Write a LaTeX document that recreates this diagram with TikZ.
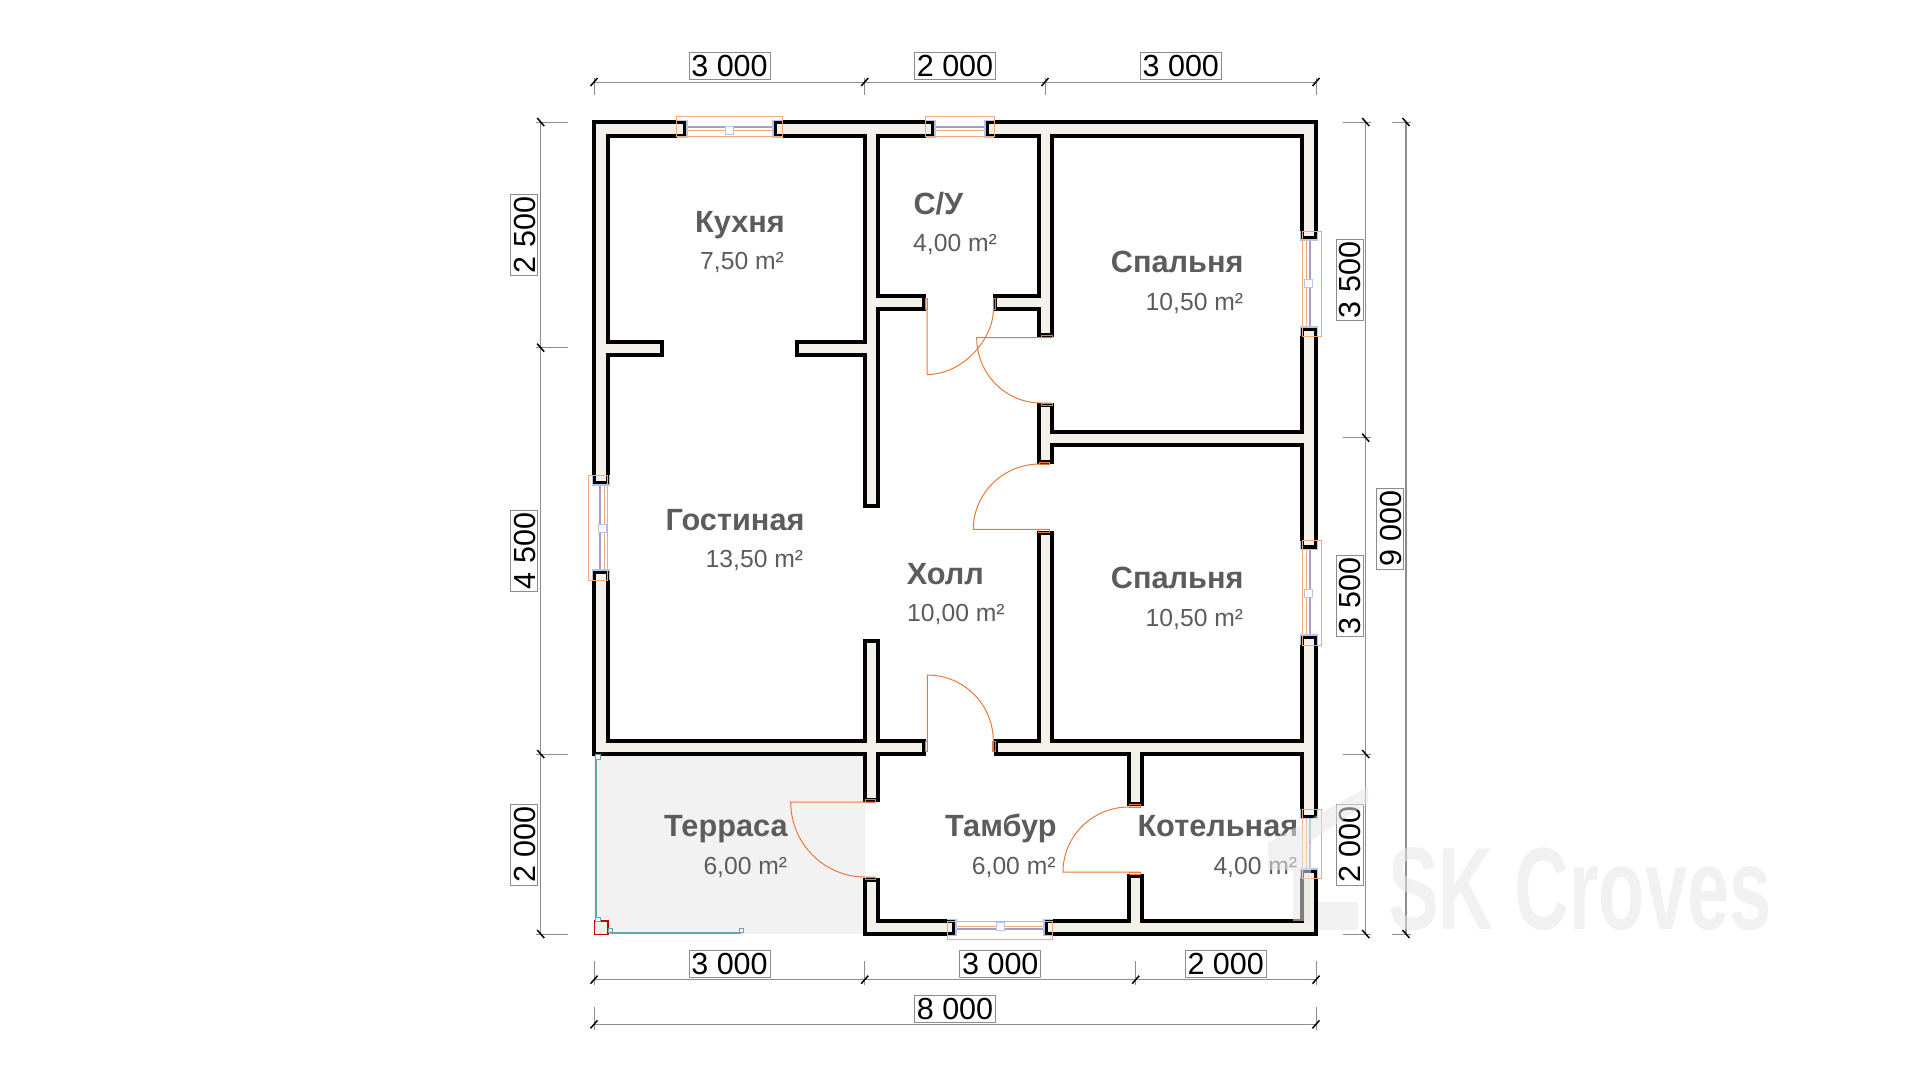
\documentclass[tikz,border=0pt]{standalone}
\usepackage{fontspec}
\setmainfont{Liberation Sans}
\definecolor{wallfill}{HTML}{F4F1EA}
\definecolor{doorc}{HTML}{E8793A}
\definecolor{winc}{HTML}{F2A878}
\definecolor{bluec}{HTML}{B4C4EA}
\definecolor{purplec}{HTML}{A39FC8}
\definecolor{railc}{HTML}{62A9AC}
\definecolor{labc}{HTML}{5C5C5C}
\definecolor{dimc}{HTML}{8C8C8C}
\definecolor{terr}{HTML}{F2F2F2}
\definecolor{markc}{HTML}{E7E7E7}
\tikzset{
  wall/.style={fill=wallfill,draw=black,line width=3.4pt,line join=miter},
  door/.style={draw=doorc,line width=1pt},
  jamb/.style={draw=doorc,line width=1pt},
  winline/.style={draw=winc,line width=1pt},
  winmark/.style={draw=bluec,line width=1.2pt},
  winmid/.style={draw=purplec,line width=1.6pt},
  winsq/.style={draw=bluec,fill=white,line width=1pt},
  rail/.style={draw=railc,line width=2pt},
  railsq/.style={draw=railc,fill=white,line width=1pt},
  dimline/.style={draw=dimc,line width=1pt},
  slash/.style={draw=black,line width=1.5pt},
  dimlab/.style={draw=dimc,fill=white,line width=1pt,minimum width=81pt,minimum height=27pt,inner sep=0pt,
     font=\fontsize{30.5}{30.5}\selectfont,text=black,text height=21.8pt,text depth=0pt},
  roomname/.style={anchor=base west,inner sep=0pt,text=labc,font=\fontsize{30.7}{30.7}\selectfont\bfseries},
  roomarea/.style={anchor=base west,inner sep=0pt,text=labc,font=\fontsize{24.7}{24.7}\selectfont},
  logomark/.style={fill=markc,opacity=.55}
}
\newcommand{\hwin}[8]{% o1 o2 yo1 yo2 w1 w2 ypurple yinner
  \draw[winline] (#1,#3) rectangle (#2,#4);
  \draw[winline] (#5,#8) -- (#6,#8);
  \draw[winmid] (#5,#7) -- (#6,#7);}
\newcommand{\vwin}[8]{% o1 o2 xo1 xo2 w1 w2 xpurple xinner
  \draw[winline] (#3,#1) rectangle (#4,#2);
  \draw[winline] (#8,#5) -- (#8,#6);
  \draw[winmid] (#7,#5) -- (#7,#6);}
\newcommand{\hend}[4]{\draw[winmark] (#1,#3-1.5) -- (#2,#3-1.5) -- (#2,#4+1.5) -- (#1,#4+1.5);}
\newcommand{\vend}[4]{\draw[winmark] (#3-1.5,#1) -- (#3-1.5,#2) -- (#4+1.5,#2) -- (#4+1.5,#1);}
\newcommand{\sqat}[3]{\draw[#3] (#1-4,#2-4) rectangle (#1+4,#2+4);}
\newcommand{\tickH}[4]{\draw[dimline] (#1,#3) -- (#1,#4); \draw[slash] (#1-3.5,#2+4) -- (#1+3.5,#2-4);}
\newcommand{\tickV}[4]{\draw[dimline] (#3,#2) -- (#4,#2); \draw[slash] (#1-3.5,#2-4) -- (#1+3.5,#2+4);}
\begin{document}
\begin{tikzpicture}[x=1pt,y=-1pt]
\useasboundingbox (0,0) rectangle (1920,1080);
\fill[white] (0,0) rectangle (1920,1080);
% terrace
\fill[terr] (594,754) rectangle (865,934);
% walls
\draw[wall] (685,122) -- (594,122) -- (594,483) -- (608,483) -- (608,355) -- (662,355) -- (662,342) -- (608,342) -- (608,136) -- (685,136) -- cycle;
\draw[wall] (775,122) -- (933,122) -- (933,136) -- (878,136) -- (878,296) -- (924,296) -- (924,309) -- (878,309) -- (878,506) -- (865,506) -- (865,355) -- (797,355) -- (797,342) -- (865,342) -- (865,136) -- (775,136) -- cycle;
\draw[wall] (987,122) -- (1316,122) -- (1316,238) -- (1302,238) -- (1302,136) -- (1052,136) -- (1052,335) -- (1039,335) -- (1039,309) -- (995,309) -- (995,296) -- (1039,296) -- (1039,136) -- (987,136) -- cycle;
\draw[wall] (594,572) -- (608,572) -- (608,741) -- (865,741) -- (865,641) -- (878,641) -- (878,741) -- (924,741) -- (924,754) -- (878,754) -- (878,800) -- (865,800) -- (865,754) -- (594,754) -- cycle;
\draw[wall] (1316,329) -- (1316,547) -- (1302,547) -- (1302,445) -- (1052,445) -- (1052,462) -- (1039,462) -- (1039,405) -- (1052,405) -- (1052,432) -- (1302,432) -- (1302,329) -- cycle;
\draw[wall] (1316,637) -- (1316,817) -- (1302,817) -- (1302,754) -- (1142,754) -- (1142,804) -- (1129,804) -- (1129,754) -- (996,754) -- (996,741) -- (1039,741) -- (1039,533) -- (1052,533) -- (1052,741) -- (1302,741) -- (1302,637) -- cycle;
\draw[wall] (865,880) -- (878,880) -- (878,921) -- (954,921) -- (954,934) -- (865,934) -- cycle;
\draw[wall] (1046,921) -- (1129,921) -- (1129,876) -- (1142,876) -- (1142,921) -- (1302,921) -- (1302,871) -- (1316,871) -- (1316,934) -- (1046,934) -- cycle;
% doors
\draw[door] (927,298) -- (927,374.5) .. controls (963.7,374.5) and (993.5,338.3) .. (993.5,309) -- (993.5,298);
\draw[jamb] (925,298) rectangle (927.5,309.5);
\draw[jamb] (993,298) rectangle (995.5,309.5);
\draw[door] (1052,337.7) -- (976.7,337.7) .. controls (976.7,373.7) and (1005.5,403) .. (1041,403) -- (1052,403);
\draw[jamb] (1041,335) rectangle (1052,337.7);
\draw[jamb] (1041,403) rectangle (1052,405.5);
\draw[door] (1049,529.3) -- (973.3,529.3) .. controls (973.3,493.3) and (1003.2,464) .. (1040,464) -- (1049,464);
\draw[jamb] (1039.5,462) rectangle (1049,464);
\draw[jamb] (1038.5,529.3) rectangle (1049,532);
\draw[door] (927.3,751) -- (927.3,675) .. controls (963.8,675) and (993.3,704.5) .. (993.3,741) -- (993.3,751);
\draw[jamb] (925,741) rectangle (927.3,751);
\draw[jamb] (992.5,741) rectangle (995,751);
\draw[door] (875,802) -- (790.7,802) .. controls (790.7,843.4) and (824,877) .. (865,877) -- (875,877);
\draw[jamb] (865,799.5) rectangle (875,802);
\draw[jamb] (865,877) rectangle (875,879.5);
\draw[door] (1140,872) -- (1063,872) .. controls (1063,836) and (1092.5,807) .. (1129,807) -- (1140,807);
\draw[jamb] (1129,804.5) rectangle (1140,807);
\draw[jamb] (1129,872) rectangle (1140,874.5);
% windows
\hwin{676.7}{782}{116.7}{136}{687}{773}{127}{130}
\hend{677}{687}{122}{136} \hend{783}{773}{122}{136}
\sqat{729.6}{130}{winsq}
\hwin{925.7}{994}{116.7}{136}{935}{985}{127}{130}
\hend{926}{935}{122}{136} \hend{994}{985}{122}{136}
\hwin{947}{1052.7}{921}{939.3}{956}{1044}{929}{926}
\hend{947}{956}{921}{934} \hend{1053}{1044}{921}{934}
\sqat{1000}{926.7}{winsq}
\vwin{475}{580.7}{588}{607.7}{485}{570}{600}{604}
\vend{475}{485}{594}{608} \vend{580}{570}{594}{608}
\sqat{602.7}{528.3}{winsq}
\vwin{231}{336}{1302.5}{1321.5}{240}{327}{1310}{1306.5}
\vend{231}{240}{1302}{1316} \vend{336}{327}{1302}{1316}
\sqat{1308}{283}{winsq}
\vwin{540.7}{645}{1302.5}{1321.5}{549.7}{635}{1310}{1306.5}
\vend{540.7}{549.7}{1302}{1316} \vend{645}{635}{1302}{1316}
\sqat{1308}{593}{winsq}
\vwin{809}{878}{1302.5}{1321.5}{818.7}{869}{1310}{1306.5}
\vend{809}{818.7}{1302}{1316} \vend{878}{869}{1302}{1316}
% terrace rail
\draw[rail] (595.5,754) -- (595.5,920);
\draw[rail] (610,933) -- (741,933);
\draw[draw=red!75!black,fill=wallfill,line width=1.6pt] (594.5,921) rectangle (608,934.5);
\draw[railsq] (595.5,754.5) rectangle (600.5,759);
\draw[railsq] (595.5,917) rectangle (600.5,921.5);
\draw[railsq] (608,928) rectangle (612.5,932.5);
\draw[railsq] (739,928) rectangle (743.5,932.5);
% dimension lines
\draw[dimline] (594,82) -- (1316,82);
\tickH{594}{82}{78}{95} \tickH{864.7}{82}{78}{95} \tickH{1045}{82}{78}{95} \tickH{1316}{82}{78}{95}
\draw[dimline] (594,979.7) -- (1316,979.7);
\tickH{594}{979.7}{961}{985} \tickH{864.7}{979.7}{961}{985} \tickH{1135.7}{979.7}{961}{985} \tickH{1316}{979.7}{961}{985}
\draw[dimline] (594,1024.3) -- (1316,1024.3);
\tickH{594}{1024.3}{1007}{1030} \tickH{1316}{1024.3}{1007}{1030}
\draw[dimline] (540.7,122) -- (540.7,934);
\tickV{540.7}{122}{536}{567.7} \tickV{540.7}{347.7}{536}{567.7} \tickV{540.7}{754}{536}{567.7} \tickV{540.7}{934}{536}{567.7}
\draw[dimline] (1365.7,122) -- (1365.7,934);
\tickV{1365.7}{122}{1342.5}{1371} \tickV{1365.7}{437.7}{1342.5}{1371} \tickV{1365.7}{754}{1342.5}{1371} \tickV{1365.7}{934}{1342.5}{1371}
\draw[dimline,line width=1.5pt] (1406,122) -- (1406,934);
\tickV{1406}{122}{1392}{1411} \tickV{1406}{934}{1392}{1411}
% dimension labels
\node[dimlab] (dt1) at (729.5,66) {3 000};
\node[dimlab] (dt2) at (955,66) {2 000};
\node[dimlab] (dt3) at (1180.8,66) {3 000};
\node[dimlab] (db1) at (729.5,964) {3 000};
\node[dimlab] (db2) at (1000.3,964) {3 000};
\node[dimlab] (db3) at (1225.7,964) {2 000};
\node[dimlab] (db4) at (955,1009) {8 000};
\node[dimlab,rotate=90] (dl1) at (524.3,235) {2 500};
\node[dimlab,rotate=90] (dl2) at (524.3,551) {4 500};
\node[dimlab,rotate=90] (dl3) at (524.3,844.5) {2 000};
\node[dimlab,rotate=90] (dr1) at (1349.7,280) {3 500};
\node[dimlab,rotate=90] (dr2) at (1349.7,596) {3 500};
\node[dimlab,rotate=90] (dr3) at (1349.5,844.5) {2 000};
\node[dimlab,rotate=90] (dr4) at (1390.2,528.5) {9 000};
% rooms
\node[roomname] (n1) at (695,232.7) {Кухня};
\node[roomarea] (a1) at (700,269) {7,50 m²};
\node[roomname] (n2) at (913.3,214) {С/У};
\node[roomarea] (a2) at (913,251.7) {4,00 m²};
\node[roomname] (n3) at (1110.7,272.7) {Спальня};
\node[roomarea] (a3) at (1145.5,310) {10,50 m²};
\node[roomname] (n4) at (665.5,530.3) {Гостиная};
\node[roomarea] (a4) at (705.5,567) {13,50 m²};
\node[roomname] (n5) at (906.7,584.3) {Холл};
\node[roomarea] (a5) at (907,621.7) {10,00 m²};
\node[roomname] (n6) at (1110.7,588) {Спальня};
\node[roomarea] (a6) at (1145.5,626) {10,50 m²};
\node[roomname] (n7) at (664,836.7) {Терраса};
\node[roomarea] (a7) at (703.3,874) {6,00 m²};
\node[roomname] (n8) at (945,836.7) {Тамбур};
\node[roomarea] (a8) at (971.7,874) {6,00 m²};
\node[roomname] (n9) at (1137.3,836.7) {Котельная};
\node[roomarea] (a9) at (1213.3,874) {4,00 m²};
% watermark
\fill[logomark] (1268,843) -- (1368,787) -- (1368,803) -- (1293,853) -- (1293,870) -- (1268,870) -- cycle;
\fill[logomark] (1293,853) -- (1311,842) -- (1311,921) -- (1293,921) -- cycle;
\fill[logomark] (1318,902) -- (1358,902) -- (1358,930) -- (1318,930) -- cycle;
\node[anchor=base west,inner sep=0pt,text=markc,opacity=.55,xscale=.648,font=\fontsize{117}{117}\selectfont\bfseries] (wm) at (1388,929) {SK Croves};
\end{tikzpicture}
\end{document}
